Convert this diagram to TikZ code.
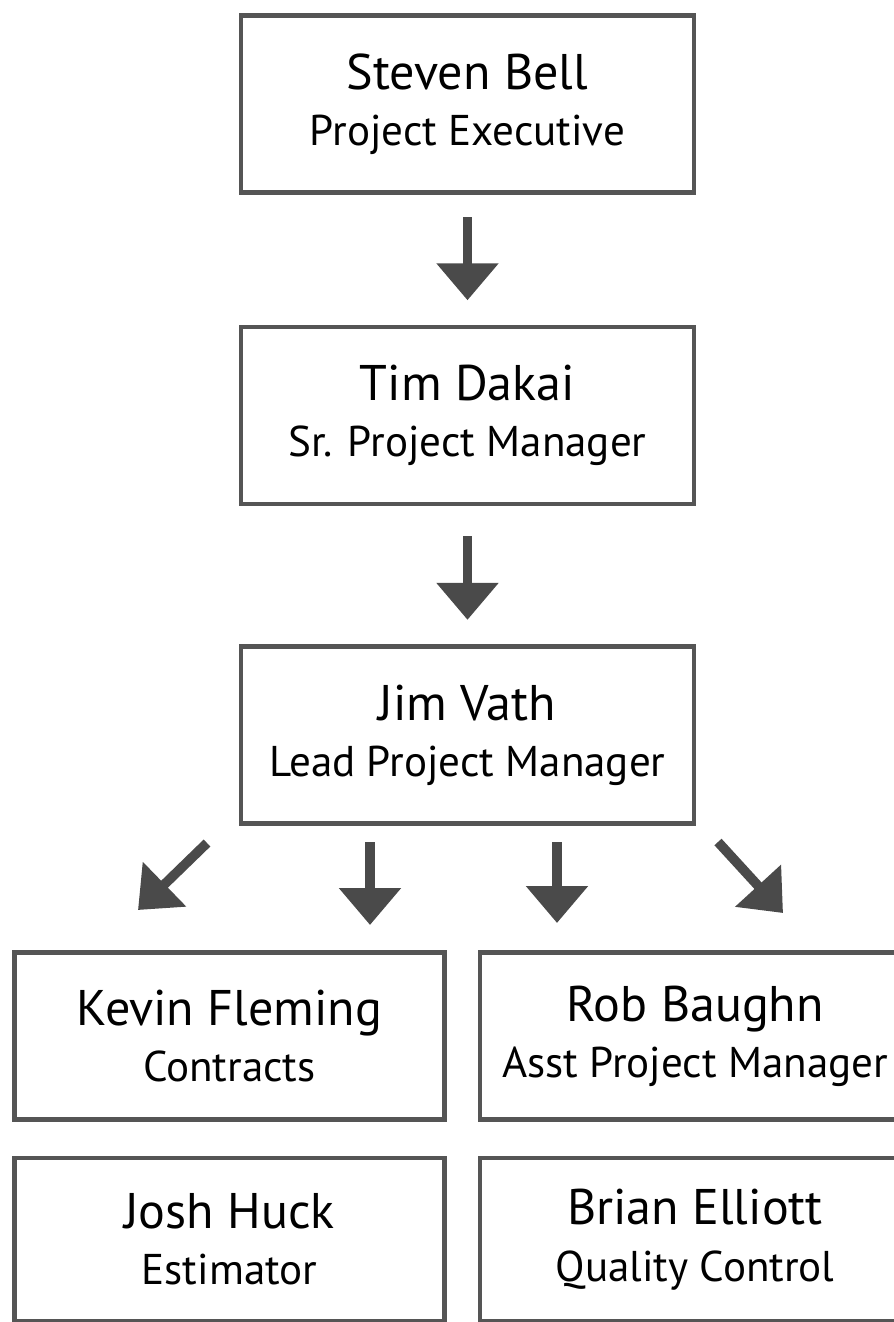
\documentclass[tikz,border=0pt]{standalone}
\usepackage{fontspec}
\usepackage{xcolor}
\usepackage{tikz}
\usetikzlibrary{arrows.meta, positioning}
\setmainfont{PT Sans}
\definecolor{boxgray}{HTML}{555555}
\definecolor{arrowgray}{HTML}{4a4a4a}
\newcommand{\jobtitle}[1]{{\fontsize{24.5}{32}\selectfont #1}}

\begin{document}
\begin{tikzpicture}[
    person/.style={rectangle, draw=boxgray, line width=2.6pt, fill=white, align=center, minimum width=9.06cm, minimum height=3.54cm, font=\fontsize{28.5}{32}\selectfont},
    staff/.style={person, minimum width=8.6cm, minimum height=3.34cm},
    pointer/.style={draw=arrowgray, line width=5.5pt, -{Triangle[width=1.2cm, length=0.74cm]}}
]
\useasboundingbox (0,0) rectangle (17.86,-26.44);

\node[person] (exec) at (9.35,-2.08) {Steven Bell\\\jobtitle{Project Executive}};
\node[person, below=2.6cm of exec] (senior) {Tim Dakai\\\jobtitle{Sr. Project Manager}};
\node[person, below=2.76cm of senior] (lead) {Jim Vath\\\jobtitle{Lead Project Manager}};

\node[staff] (contracts) at (4.59,-20.72) {Kevin Fleming\\\jobtitle{Contracts}};
\node[staff, right=0.62cm of contracts] (asst) {Rob Baughn\\\jobtitle{Asst Project Manager}};
\node[staff, below=0.68cm of contracts, minimum height=3.26cm] (estimator) {Josh Huck\\\jobtitle{Estimator}};
\node[staff, below=0.68cm of asst, minimum height=3.26cm] (quality) {Brian Elliott\\\jobtitle{Quality Control}};

% arrows between the top boxes
\draw[pointer, shorten <=0.45cm, shorten >=0.49cm] (exec.south) -- (senior.north);
\draw[pointer, shorten <=0.6cm, shorten >=0.49cm] (senior.south) -- (lead.north);

% four arrows under the lead box
\coordinate (fromA) at (4.14,-16.86);
\coordinate (toA) at (2.76,-18.20);
\coordinate (fromB) at (7.40,-16.84);
\coordinate (toB) at (7.40,-18.50);
\coordinate (fromC) at (11.14,-16.84);
\coordinate (toC) at (11.14,-18.46);
\coordinate (fromD) at (14.36,-16.84);
\coordinate (toD) at (15.66,-18.26);
\foreach \a in {A,B,C,D}
    \draw[pointer] (from\a) -- (to\a);

\end{tikzpicture}
\end{document}
